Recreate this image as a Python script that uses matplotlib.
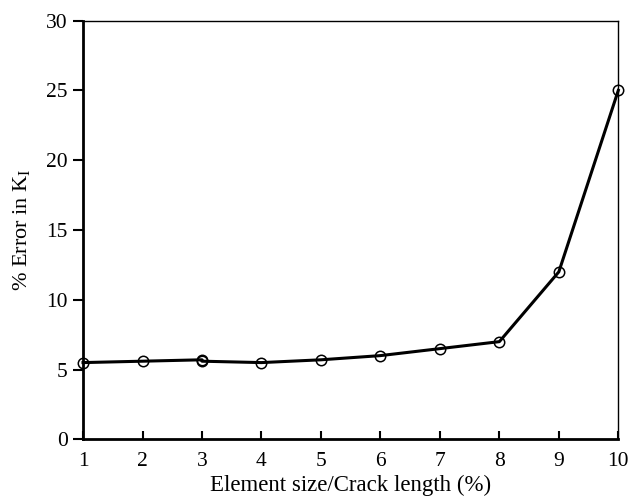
import matplotlib
matplotlib.use("Agg")
import matplotlib.pyplot as plt

plt.rcParams['font.family'] = ['Liberation Serif', 'DejaVu Serif']
plt.rcParams['mathtext.fontset'] = 'custom'
plt.rcParams['mathtext.rm'] = 'Liberation Serif'
plt.rcParams['mathtext.it'] = 'Liberation Serif'

# element size / crack length (%) and % error in KI
size_pct = [1, 2, 3, 3, 4, 5, 6, 7, 8, 9, 10]
error_pct = [5.5, 5.6, 5.7, 5.6, 5.5, 5.7, 6.0, 6.5, 7.0, 12.0, 25.0]
x_ticks = [1, 2, 3, 4, 5, 6, 7, 8, 9, 10]
y_ticks = [0, 5, 10, 15, 20, 25, 30]

fig = plt.figure(figsize=(6.29, 5.01), dpi=100)
ax = fig.add_axes([0.132, 0.123, 0.851, 0.836])

ax.plot(size_pct, error_pct, color="black", linewidth=2.2, marker="o",
        markersize=7.5, markerfacecolor="none", markeredgecolor="black",
        markeredgewidth=1.1, clip_on=False)

ax.set_xlim(1, 10)
ax.set_ylim(0, 30)
ax.set_xticks(x_ticks)
ax.set_yticks(y_ticks)
ax.tick_params(axis="x", direction="in", length=6, width=1.5, labelsize=15.5, pad=9)
ax.tick_params(axis="y", direction="out", length=7, width=1.5, labelsize=15.5, pad=4)

ax.spines["left"].set_linewidth(2)
ax.spines["bottom"].set_linewidth(2)
ax.spines["top"].set_linewidth(1)
ax.spines["right"].set_linewidth(1)

ax.set_xlabel("Element size/Crack length (%)", fontsize=16.5, labelpad=3)
ax.set_ylabel(r"% Error in K$_\mathrm{I}$", fontsize=16, labelpad=10)

fig.savefig("out.png", dpi=100)
